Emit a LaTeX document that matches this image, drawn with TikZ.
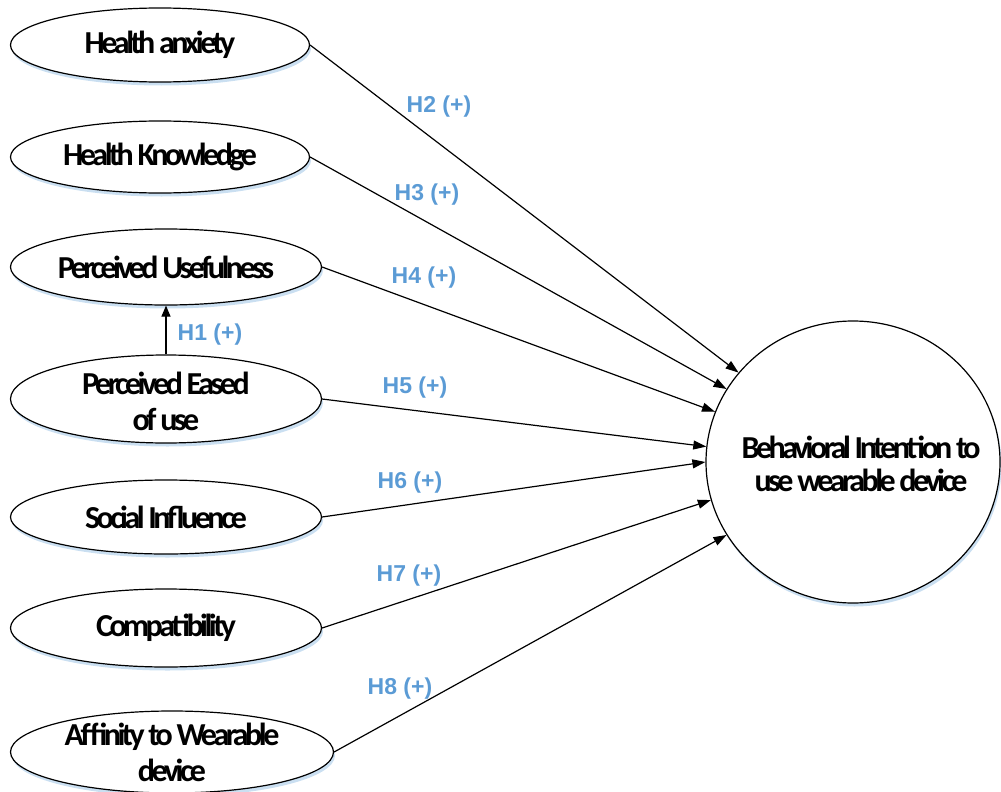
\documentclass[tikz,border=0pt]{standalone}
\usepackage{fontspec}
\setmainfont{Carlito}
\newfontfamily\nodefont[LetterSpace=-11]{Carlito}
\newfontfamily\labfont{Liberation Sans}
\usetikzlibrary{shapes.geometric,arrows.meta,shadows}
\definecolor{labblue}{HTML}{5B9BD5}
\definecolor{shadblue}{HTML}{BDD7EE}
\begin{document}
\begin{tikzpicture}[x=1pt,y=-1pt,
  construct/.style={ellipse, draw=black, line width=1.2pt, fill=white, inner sep=0pt,
    align=center, font=\nodefont\bfseries\fontsize{32}{36}\selectfont,
    general shadow={fill=shadblue, opacity=0.8, shadow xshift=1.5pt, shadow yshift=-3.5pt}},
  ctext/.style={align=center, inner sep=0pt, font=\nodefont\bfseries\fontsize{32}{33}\selectfont},
  hyp/.style={font=\labfont\bfseries\fontsize{23}{25}\selectfont, text=labblue, inner sep=0pt},
  arr/.style={line width=1.2pt, -{Triangle[length=13pt,width=9pt]}},
  arrs/.style={line width=1.2pt, -{Triangle[length=11pt,width=9pt]}}]
\useasboundingbox (0,0) rectangle (1001,792);
\node[construct, minimum width=299pt, minimum height=74pt] (ha) at (160,45) {Health anxiety};
\node[construct, minimum width=299pt, minimum height=72pt] (hk) at (160,157) {Health Knowledge};
\node[construct, minimum width=311pt, minimum height=76pt] (pu) at (166,267) {Perceived Usefulness};
\node[construct, minimum width=311pt, minimum height=88pt] (peu) at (166,399) {};
\node[ctext, font=\nodefont\bfseries\fontsize{32}{36}\selectfont] (peut) at (166,401) {Perceived Eased\\of use};
\node[construct, minimum width=311pt, minimum height=74pt] (si) at (166,517) {Social Influence};
\node[construct, minimum width=311pt, minimum height=78pt] (comp) at (166,628) {Compatibility};
\node[construct, minimum width=323pt, minimum height=82pt] (aff) at (172,752) {};
\node[ctext, font=\nodefont\bfseries\fontsize{32}{36}\selectfont] (afft) at (172,752) {Affinity to Wearable\\device};
\node[construct, minimum width=294pt, minimum height=282pt] (bi) at (853,462) {};
\node[ctext] (bit) at (861,464) {Behavioral Intention to\\use wearable device};

\draw[arrs] (peu.north) -- (pu.south);
\draw[arr] (ha.east) -- (bi.142);
\draw[arr] (hk.east) -- (bi.150);
\draw[arr] (pu.east) -- (bi.160);
\draw[arr] (peu.east) -- (bi.174);
\draw[arr] (si.east) -- (bi.180);
\draw[arr] (comp.east) -- (bi.195);
\draw[arr] (aff.east) -- (bi.210);

\node[hyp] (h1) at (210,335) {H1 (+)};
\node[hyp] (h2) at (439,107) {H2 (+)};
\node[hyp] (h3) at (427,195) {H3 (+)};
\node[hyp] (h4) at (424,278) {H4 (+)};
\node[hyp] (h5) at (415,388) {H5 (+)};
\node[hyp] (h6) at (410,483) {H6 (+)};
\node[hyp] (h7) at (409,576) {H7 (+)};
\node[hyp] (h8) at (400,689) {H8 (+)};
\end{tikzpicture}
\end{document}
